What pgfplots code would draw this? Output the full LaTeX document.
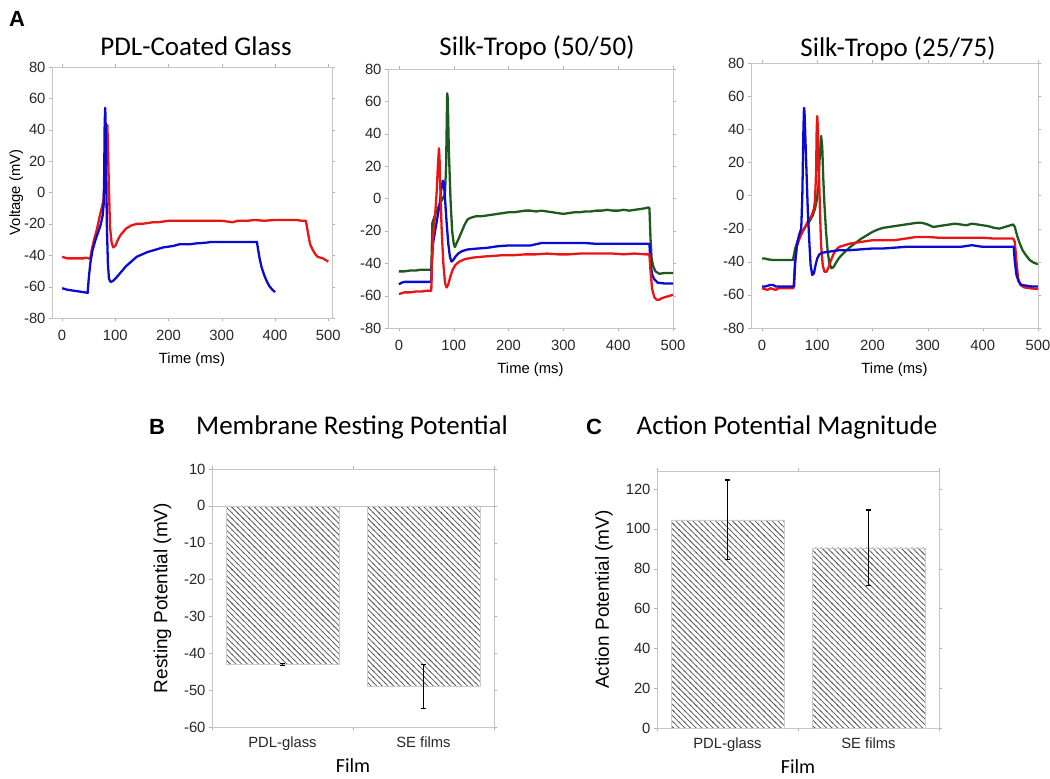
\documentclass[border=0pt]{standalone}
\usepackage{fontspec}
\setmainfont{Liberation Sans}
\newfontfamily\calibri{Carlito}
\usepackage{pgfplots}
\pgfplotsset{compat=1.18}
\usetikzlibrary{patterns}

\definecolor{tred}{RGB}{235,20,20}
\definecolor{tblue}{RGB}{10,10,210}
\definecolor{tgreen}{RGB}{30,90,30}

% diagonal hatching, lines running top-left to bottom-right, 4pt apart
\pgfdeclarepatternformonly{hatchnw}{\pgfqpoint{-1pt}{-1pt}}{\pgfqpoint{6.66pt}{6.66pt}}{\pgfqpoint{5.66pt}{5.66pt}}{
  \pgfsetlinewidth{0.75pt}
  \pgfpathmoveto{\pgfqpoint{-0.7pt}{6.36pt}}
  \pgfpathlineto{\pgfqpoint{6.36pt}{-0.7pt}}
  \pgfusepath{stroke}
}

\pgfplotsset{
  frame/.style={
    scale only axis, anchor=north west,
    axis line style={gray!45}, tick style={gray!60},
    tick align=outside, major tick length=3pt, minor tick length=3pt,
    ticklabel style={font=\fontsize{14.8}{16}\selectfont, text=black!85},
    label style={font=\fontsize{14.8}{16}\selectfont},
    /pgf/number format/assume math mode=true,
  },
  trace/.style={frame,
    xmin=-20, xmax=500, ymin=-80, ymax=80,
    xtick={0,100,...,500}, ytick={-80,-60,...,80},
    xlabel={Time (ms)},
    xticklabel style={yshift=-6pt},
    xlabel style={yshift=-5pt},
    ylabel style={yshift=-6pt},
    every axis plot/.append style={line width=2.3pt, mark=none, line join=round},
  },
  bars/.style={frame,
    xmin=-0.5, xmax=1.5, xtick={0,1},
    xticklabels={PDL-glass, SE films},
    xticklabel style={yshift=-3pt},
    major x tick style={draw=none}, minor xtick={-0.5,0.5,1.5},
    xlabel={Film},
    xlabel style={font=\calibri\fontsize{20}{22}\selectfont, yshift=-1pt},
    ylabel style={font=\fontsize{19}{21}\selectfont},
    ybar, bar width=0.8,
  },
  hatch/.style={pattern=hatchnw, pattern color=black!65, draw=gray!40,
    error bars/.cd, y dir=both, y explicit,
    error bar style={black, line width=1.4pt},
    error mark options={black, rotate=90, mark size=2.5pt, line width=1.4pt}},
}

\begin{document}
\begin{tikzpicture}
\useasboundingbox (0,0) rectangle (1050pt,-779pt);

% panel labels and titles
\node[font=\bfseries\fontsize{22}{24}\selectfont, anchor=base] at (17pt,-27pt) {A};
\node[font=\calibri\fontsize{27}{30}\selectfont, anchor=base] at (196pt,-55pt) {PDL-Coated Glass};
\node[font=\calibri\fontsize{27}{30}\selectfont, anchor=base] at (537pt,-55pt) {Silk-Tropo (50/50)};
\node[font=\calibri\fontsize{27}{30}\selectfont, anchor=base] at (898pt,-56pt) {Silk-Tropo (25/75)};
\node[font=\bfseries\fontsize{22}{24}\selectfont, anchor=base] at (157pt,-434pt) {B};
\node[font=\calibri\fontsize{27}{30}\selectfont, anchor=base] at (352pt,-434pt) {Membrane Resting Potential};
\node[font=\bfseries\fontsize{22}{24}\selectfont, anchor=base] at (594pt,-434pt) {C};
\node[font=\calibri\fontsize{27}{30}\selectfont, anchor=base] at (787pt,-434pt) {Action Potential Magnitude};

% A1: PDL-coated glass
\begin{axis}[trace, at={(52pt,-67pt)}, width=280pt, height=251pt,
  xmin=-19, xmax=507, ylabel={Voltage (mV)}]
\addplot[tred] coordinates {
(0,-41)(5,-41.5)(10,-42)(20,-42)(30,-42)(40,-42)(45,-41.5)(50,-42)(53,-42)
(56,-36)(60,-30)(65,-24)(70,-16)(75,-9)(78,-4)(80,8)(83,38)(85,43)(86,32)
(88,2)(90,-22)(93,-32)(96,-35)(100,-34)(105,-30)(110,-27)(115,-25)(120,-23)
(130,-21)(140,-20)(150,-20)(160,-19.5)(170,-19)(180,-19)(190,-18.5)(200,-18)
(220,-18)(240,-18)(260,-18)(280,-18)(300,-18)(310,-18.5)(320,-19)(330,-18)
(350,-18)(360,-17.5)(380,-18)(400,-17.5)(420,-17.5)(440,-17.5)(450,-18)(458,-18)
(460,-22)(463,-28)(466,-33)(470,-36)(475,-39)(480,-41)(490,-42)(500,-44)};
\addplot[tblue] coordinates {
(0,-61)(10,-62)(20,-62.5)(30,-63)(40,-63.5)(48,-64)(50,-55)(53,-45)(57,-37)
(62,-31)(67,-26)(72,-21)(76,-15)(78,-8)(79,10)(80,45)(81,54)(82,40)(83,10)
(84,-20)(86,-45)(88,-55)(91,-57)(95,-56.5)(100,-55)(105,-53)(110,-51)(115,-49)
(120,-47)(125,-45.5)(130,-44)(140,-41)(150,-39.5)(160,-38)(170,-37)(180,-36)
(190,-35)(200,-34.5)(210,-34)(220,-33)(240,-33)(250,-32.5)(270,-32)(280,-31.5)
(300,-31.5)(330,-31.5)(366,-31.5)(368,-36)(371,-42)(375,-48)(380,-53)(385,-57)
(390,-60)(395,-62)(400,-63.5)};
\end{axis}

% A2: Silk-Tropo 50/50
\begin{axis}[trace, at={(388pt,-69pt)}, width=285pt, height=259pt]
\addplot[tgreen] coordinates {
(0,-45)(10,-45)(20,-44.5)(30,-44.5)(40,-44)(50,-44)(59,-44)(60,-30)(61,-15)
(65,-11)(70,-7)(75,-3)(80,0)(84,3)(86,20)(88,65)(89,62)(91,30)(94,0)(97,-20)
(100,-28)(102,-30)(106,-27)(110,-24)(115,-20)(120,-16)(125,-13)(130,-12)
(140,-11)(150,-11)(160,-10.5)(170,-10)(180,-9.5)(190,-9)(200,-8.5)(210,-8.5)
(220,-8)(230,-7.5)(240,-7.5)(250,-8)(260,-7.5)(270,-8)(280,-8.5)(290,-9)
(300,-9.5)(310,-9)(320,-8.5)(330,-8.5)(340,-8)(350,-8)(360,-7.5)(370,-7.5)
(380,-7)(390,-7.5)(400,-7.5)(410,-7)(420,-7.5)(430,-7)(440,-6.5)(450,-6)
(455,-5.5)(457,-6)(459,-25)(461,-37)(464,-42)(468,-45)(475,-46.5)(485,-46)(500,-46)};
\addplot[tblue] coordinates {
(0,-53)(5,-52)(10,-51.5)(30,-51.5)(50,-51.5)(59,-51.5)(60,-40)(62,-28)(66,-20)
(70,-12)(74,-4)(77,5)(80,11)(82,10)(84,0)(87,-15)(90,-28)(93,-36)(96,-39)
(99,-38)(103,-36)(108,-34)(115,-32.5)(125,-31.5)(140,-31)(160,-30.5)(180,-29.5)
(200,-29)(220,-29)(240,-29)(260,-27.5)(280,-27.5)(300,-27.5)(320,-27.5)
(340,-27.5)(360,-28)(380,-28)(400,-28)(420,-28)(440,-28)(457,-28)(459,-40)
(462,-47)(466,-50)(472,-52)(485,-52.5)(500,-52.5)};
\addplot[tred] coordinates {
(0,-59)(5,-58.5)(10,-58)(20,-58)(30,-57.5)(40,-57.5)(50,-57)(59,-57)(60,-40)
(62,-25)(66,-10)(69,5)(71,20)(73,31)(74,25)(76,0)(78,-20)(81,-40)(84,-52)
(87,-55)(90,-53)(94,-48)(98,-44)(103,-41)(110,-39)(120,-37.5)(135,-36.5)
(150,-36)(170,-35.5)(190,-35)(210,-35)(230,-34.5)(250,-34.5)(270,-34)
(290,-34.5)(310,-34.5)(330,-34)(350,-34)(370,-34)(390,-34)(410,-34.5)(430,-34)
(450,-34.5)(457,-34.5)(459,-45)(462,-56)(466,-61)(470,-62.5)(475,-62.5)
(480,-61.5)(490,-60.5)(500,-59.5)};
\end{axis}

% A3: Silk-Tropo 25/75
\begin{axis}[trace, at={(751pt,-63pt)}, width=287pt, height=265pt]
\addplot[tgreen] coordinates {
(0,-38)(5,-38)(10,-38.5)(20,-39)(30,-39)(40,-39)(50,-39)(56,-39)(60,-32)
(65,-27)(70,-24)(75,-21)(80,-18)(87,-15)(92,-12)(96,-8)(99,-3)(102,5)(104,20)
(107,36)(109,30)(111,10)(113,-5)(116,-22)(119,-34)(122,-41)(126,-44)(130,-43)
(135,-40)(140,-37.5)(150,-34)(160,-31)(170,-28.5)(180,-26)(190,-24)(200,-22)
(210,-20.5)(220,-19.5)(230,-19)(240,-18.5)(250,-18)(260,-17.5)(270,-17)
(280,-16.5)(290,-16.5)(300,-17.5)(310,-19)(320,-18.5)(330,-18)(340,-17.5)
(350,-17)(360,-17.5)(370,-18)(380,-17)(390,-17.5)(400,-18)(410,-18.5)
(420,-19.5)(430,-20)(440,-19)(450,-18)(455,-17.5)(458,-19)(462,-24)(467,-29)
(472,-33)(478,-36)(485,-39)(492,-40.5)(500,-41.5)};
\addplot[tred] coordinates {
(0,-56)(5,-56.5)(10,-57)(15,-56)(20,-56.5)(25,-57)(30,-56)(40,-56)(50,-56)
(57,-56)(60,-40)(63,-31)(68,-26)(73,-22)(78,-19)(84,-15)(90,-12)(94,-8)(96,-3)
(98,15)(99,40)(100,48)(101,42)(103,15)(105,-10)(107,-30)(110,-42)(113,-46)
(117,-46)(121,-43)(125,-39)(130,-35)(135,-32.5)(140,-31)(150,-30)(160,-29)
(170,-28.5)(180,-28)(190,-27.5)(200,-27)(220,-27)(240,-27)(260,-26)(280,-25)
(300,-25)(320,-25.5)(340,-25.5)(360,-25.5)(380,-25.5)(400,-25.5)(420,-26)
(440,-26)(455,-26)(458,-28)(461,-40)(464,-50)(468,-54)(475,-55.5)(485,-56)(500,-56.5)};
\addplot[tblue] coordinates {
(0,-55)(5,-55)(10,-54.5)(15,-54)(20,-54)(25,-55)(30,-55)(40,-55)(50,-55)
(58,-55)(60,-40)(63,-30)(67,-24)(71,-20)(73,0)(75,40)(76,53)(77,50)(79,30)
(81,10)(83,-10)(86,-30)(88,-42)(91,-48)(94,-47)(97,-42)(100,-38)(104,-35.5)
(110,-34.5)(120,-34)(130,-33.5)(140,-33)(160,-33)(180,-32.5)(200,-32)(220,-32)
(240,-31.5)(260,-31)(280,-31)(300,-31)(320,-31)(340,-31)(360,-31)(380,-30)
(390,-30.5)(400,-31)(420,-31)(440,-31)(456,-31)(458,-40)(461,-48)(465,-52)
(470,-54)(480,-54.5)(490,-55)(500,-55)};
\end{axis}

% B: resting potential
\begin{axis}[bars, at={(212pt,-469pt)}, width=282pt, height=258pt,
  ymin=-60, ymax=10, ytick={-60,-50,...,10},
  extra y ticks={0}, extra y tick labels={},
  extra y tick style={grid=major, major grid style={gray!50}},
  ylabel={Resting Potential (mV)}]
\addplot[hatch] coordinates {(0,-43) +- (0,0.3) (1,-49) +- (0,6)};
\end{axis}

% C: action potential magnitude
\begin{axis}[bars, at={(657pt,-471pt)}, width=282pt, height=257pt,
  ymin=0, ymax=129, ytick={0,20,...,120},
  ylabel style={yshift=6pt},
  ylabel={Action Potential (mV)}]
\addplot[hatch] coordinates {(0,104.5) +- (0,20) (1,90.5) +- (0,19)};
\end{axis}
\end{tikzpicture}
\end{document}
